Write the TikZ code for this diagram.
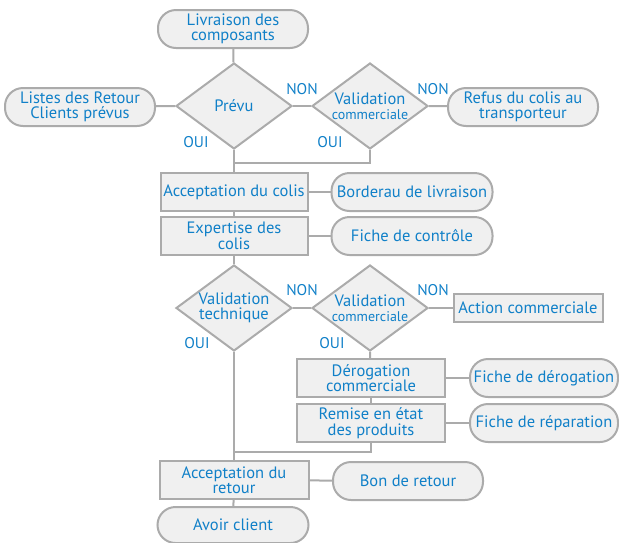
\documentclass[tikz,border=0pt]{standalone}
\usepackage{fontspec}
\setmainfont{PT Sans}
\usetikzlibrary{shapes.geometric}
\definecolor{txtblue}{HTML}{1080C8}
\definecolor{boxgray}{HTML}{ABABAB}
\definecolor{boxfill}{HTML}{F0F0F0}

\begin{document}
\begin{tikzpicture}[x=1pt,y=-1pt]
    \tikzstyle{base}=[draw=boxgray,fill=boxfill,line width=2pt,text=txtblue,align=center,inner sep=1pt,font=\fontsize{16.5}{15.5}\selectfont]
    \tikzstyle{doc}=[base,rectangle,rounded corners=18pt,minimum height=38pt]
    \tikzstyle{task}=[base,rectangle,minimum height=38pt]
    \tikzstyle{test}=[base,diamond,shape aspect=1.35,minimum width=116pt,minimum height=86pt,inner sep=-1pt]
    \tikzstyle{answer}=[text=txtblue,font=\fontsize{15.5}{15}\selectfont,inner sep=0pt]
    \tikzstyle{link}=[draw=boxgray,line width=2pt]
    \useasboundingbox (0,0) rectangle (619,542);

    % first control
    \node[doc,minimum width=150pt] (livraison) at (233,29) {Livraison des\\composants};
    \node[test] (prevu) at (234,106) {Prévu};
    \node[doc,minimum width=150pt] (listes) at (80,107) {Listes des Retour\\Clients prévus};
    \node[test] (valcom) at (370,106) {Validation\\{\fontsize{14}{13}\selectfont commerciale}};
    \node[doc,minimum width=150pt] (refus) at (523,107) {Refus du colis au\\transporteur};
    \node[answer] at (302,89) {NON};
    \node[answer] at (433,89) {NON};
    \node[answer] at (196,142) {OUI};
    \node[answer] at (330,142) {OUI};
    \coordinate (join) at (234,163);

    % reception
    \node[task,minimum width=147pt] (accept) at (234,192) {Acceptation du colis};
    \node[doc,minimum width=161pt] (bordereau) at (412,192) {Borderau de livraison};
    \node[task,minimum width=147pt] (expertise) at (234,236) {Expertise des\\colis};
    \node[doc,minimum width=161pt] (controle) at (412,236) {Fiche de contrôle};

    % second control
    \node[test] (valtech) at (234,308) {Validation\\technique};
    \node[test] (valcomb) at (370,308) {Validation\\{\fontsize{14}{13}\selectfont commerciale}};
    \node[task,minimum width=149pt,minimum height=28pt] (action) at (528,308) {Action commerciale};
    \node[answer] at (302,290) {NON};
    \node[answer] at (433,290) {NON};
    \node[answer] at (197,343) {OUI};
    \node[answer] at (332,343) {OUI};
    \node[task,minimum width=148pt] (derogation) at (371,378) {Dérogation\\commerciale};
    \node[doc,minimum width=148pt] (fderog) at (544,378) {Fiche de dérogation};
    \node[task,minimum width=148pt] (remise) at (371,423) {Remise en état\\des produits};
    \node[doc,minimum width=148pt] (freparation) at (544,423) {Fiche de réparation};
    \coordinate (joinb) at (234,452);

    % return
    \node[task,minimum width=149pt] (retour) at (234,480) {Acceptation du\\retour};
    \node[doc,minimum width=150pt] (bon) at (408,481) {Bon de retour};
    \node[doc,minimum width=151pt,minimum height=36pt] (avoir) at (233,525) {Avoir client};

    \draw[link] (livraison) -- (prevu);
    \draw[link] (listes) -- (prevu.west);
    \draw[link] (prevu.east) -- (valcom.west);
    \draw[link] (valcom.east) -- (refus);
    \draw[link] (prevu.south) -- (accept);
    \draw[link] (valcom.south) |- (join);
    \draw[link] (accept) -- (bordereau);
    \draw[link] (accept) -- (expertise);
    \draw[link] (expertise) -- (controle);
    \draw[link] (expertise) -- (valtech.north);
    \draw[link] (valtech.east) -- (valcomb.west);
    \draw[link] (valcomb.east) -- (action);
    \draw[link] (valcomb.south) -- (derogation);
    \draw[link] (derogation) -- (fderog);
    \draw[link] (derogation) -- (remise);
    \draw[link] (remise) -- (freparation);
    \draw[link] (valtech.south) -- (retour);
    \draw[link] (remise.south) |- (joinb);
    \draw[link] (retour) -- (bon);
    \draw[link] (retour) -- (avoir);
\end{tikzpicture}
\end{document}
